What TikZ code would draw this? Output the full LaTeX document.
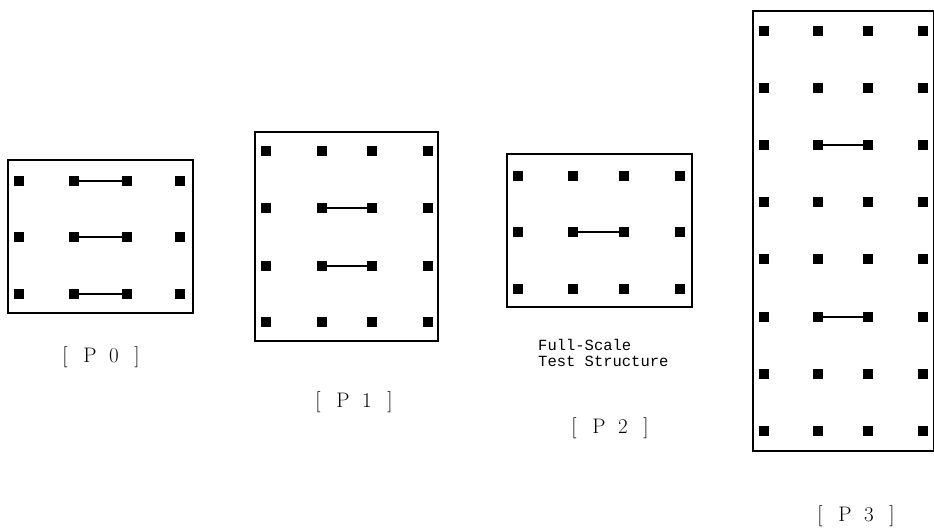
\documentclass[tikz,border=0pt]{standalone}
\usepackage{fontspec}
\newfontfamily\monofam{Liberation Mono}
\tikzset{
  pad/.style={fill=black,draw=none,minimum size=10.5pt,inner sep=0pt,outer sep=0pt},
  panel/.style={draw=black,line width=1.2pt},
  link/.style={draw=black,line width=1.4pt},
  plabel/.style={font=\fontsize{21}{24}\selectfont,inner sep=0pt},
  mono/.style={font=\monofam\fontsize{15.5}{16.5}\selectfont,align=left,inner sep=0pt}
}
\newcommand{\plbl}[1]{[\hspace{0.75em}P\hspace{0.6em}#1\hspace{0.75em}]}
\begin{document}
\begin{tikzpicture}[x=1pt,y=-1pt]
\useasboundingbox (0,0) rectangle (934,531);
% ---------- P0 ----------
\draw[panel] (8,160) rectangle (193,313);
\foreach \r/\y in {1/181,2/237,3/294}{
  \foreach \c/\x in {1/19,2/74,3/127,4/180}{
    \node[pad] (a\r\c) at (\x,\y) {};
  }
}
\foreach \r in {1,2,3}{ \draw[link] (a\r2) -- (a\r3); }
\node[plabel] (la) at (101,357) {\plbl{0}};
% ---------- P1 ----------
\draw[panel] (255,132) rectangle (438,341);
\foreach \r/\y in {1/151,2/208,3/266,4/322}{
  \foreach \c/\x in {1/266,2/322,3/372,4/428}{
    \node[pad] (b\r\c) at (\x,\y) {};
  }
}
\foreach \r in {2,3}{ \draw[link] (b\r2) -- (b\r3); }
\node[plabel] (lb) at (354,402) {\plbl{1}};
% ---------- P2 ----------
\draw[panel] (507,154) rectangle (692,307);
\foreach \r/\y in {1/176,2/232,3/289}{
  \foreach \c/\x in {1/518,2/573,3/624,4/680}{
    \node[pad] (c\r\c) at (\x,\y) {};
  }
}
\draw[link] (c22) -- (c23);
\node[mono,anchor=north west] (fs) at (538,339) {Full-Scale\\Test Structure};
\node[plabel] (lc) at (610,428) {\plbl{2}};
% ---------- P3 ----------
\draw[panel] (753,11) rectangle (934,451);
\foreach \r/\y in {1/31,2/88,3/145,4/202,5/259,6/317,7/374,8/431}{
  \foreach \c/\x in {1/764,2/818,3/868,4/923}{
    \node[pad] (d\r\c) at (\x,\y) {};
  }
}
\foreach \r in {3,6}{ \draw[link] (d\r2) -- (d\r3); }
\node[plabel] (ld) at (856,516) {\plbl{3}};
\end{tikzpicture}
\end{document}
